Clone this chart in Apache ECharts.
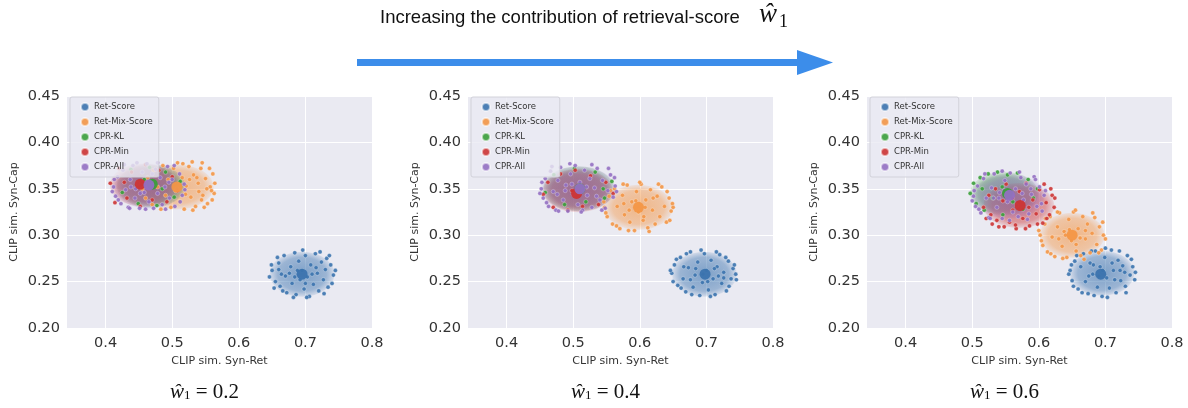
<!DOCTYPE html>
<html>
<head>
<meta charset="utf-8">
<script src="https://cdn.jsdelivr.net/npm/echarts@6/dist/echarts.min.js"></script>
<style>html,body{margin:0;padding:0;background:#fff;}#c{width:1188px;height:408px;}</style>
</head>
<body>
<div id="c"></div>
<script>
// ---------- data ----------
const methods = ['Ret-Score', 'Ret-Mix-Score', 'CPR-KL', 'CPR-Min', 'CPR-All'];
const weights = ['0.2', '0.4', '0.6'];
const xTicks = [0.4, 0.5, 0.6, 0.7, 0.8];
const xName = 'CLIP sim. Syn-Ret';
const yName = 'CLIP sim. Syn-Cap';
const titleText = 'Increasing the contribution of retrieval-score';

// panel 1 (w = 0.2)
const p1RetScore = [[0.650,0.262],[0.655,0.250],[0.660,0.270],[0.662,0.245],[0.668,0.278],[0.670,0.256],[0.672,0.238],[0.678,0.266],[0.680,0.248],[0.684,0.281],[0.686,0.236],[0.690,0.272],[0.692,0.252],[0.695,0.262],[0.698,0.242],[0.700,0.278],[0.703,0.255],[0.706,0.234],[0.708,0.268],[0.712,0.247],[0.715,0.280],[0.718,0.259],[0.720,0.240],[0.724,0.271],[0.727,0.252],[0.730,0.263],[0.734,0.244],[0.738,0.268],[0.742,0.257],[0.676,0.259],[0.688,0.262],[0.710,0.258],[0.664,0.258],[0.732,0.275],
  [0.646,0.255],[0.649,0.268],[0.653,0.243],[0.658,0.276],[0.666,0.240],[0.682,0.233],[0.696,0.284],[0.722,0.282],[0.728,0.237],[0.740,0.248],[0.745,0.262],[0.736,0.278],[0.702,0.233],[0.660,0.263],[0.716,0.265],[0.700,0.248],[0.684,0.255]];
const p1RetMix = [[0.455,0.350],[0.460,0.340],[0.463,0.362],[0.470,0.333],[0.472,0.370],[0.478,0.352],[0.483,0.328],[0.486,0.375],[0.490,0.343],[0.494,0.360],[0.498,0.330],[0.502,0.372],[0.505,0.348],[0.508,0.378],[0.511,0.336],[0.515,0.362],[0.518,0.328],[0.521,0.353],[0.525,0.374],[0.528,0.341],[0.532,0.365],[0.535,0.331],[0.539,0.356],[0.543,0.372],[0.546,0.343],[0.550,0.361],[0.553,0.334],[0.557,0.352],[0.561,0.366],[0.563,0.345],[0.540,0.347],[0.526,0.360],
  [0.564,0.356],[0.560,0.338],[0.556,0.372],[0.548,0.330],[0.545,0.378],[0.531,0.327],[0.530,0.379],[0.516,0.377],[0.552,0.350],[0.537,0.362],[0.544,0.338],[0.520,0.344],[0.559,0.348]];
const p1KL = [[0.425,0.346],[0.438,0.371],[0.449,0.334],[0.466,0.373],[0.477,0.332],[0.490,0.368],[0.503,0.341],[0.512,0.358],[0.485,0.350],[0.458,0.360]];
const p1Min = [[0.407,0.356],[0.414,0.335],[0.420,0.372],[0.432,0.340],[0.439,0.368],[0.452,0.331],[0.460,0.376],[0.470,0.338],[0.480,0.370],[0.492,0.336],[0.500,0.363],[0.508,0.348],[0.428,0.357]];
const p1All = [[0.412,0.352],[0.415,0.342],[0.418,0.363],[0.423,0.334],[0.426,0.370],[0.430,0.349],[0.434,0.330],[0.437,0.360],[0.441,0.375],[0.444,0.340],[0.448,0.356],[0.451,0.329],[0.455,0.368],[0.458,0.346],[0.462,0.377],[0.465,0.336],[0.468,0.358],[0.472,0.329],[0.475,0.371],[0.478,0.345],[0.482,0.362],[0.485,0.333],[0.489,0.352],[0.493,0.374],[0.496,0.340],[0.500,0.360],[0.504,0.331],[0.507,0.350],[0.511,0.366],[0.515,0.343],[0.518,0.355],[0.445,0.350],
  [0.410,0.347],[0.413,0.360],[0.419,0.338],[0.428,0.376],[0.436,0.329],[0.447,0.378],[0.460,0.328],[0.478,0.378],[0.490,0.328],[0.503,0.375],[0.512,0.336],[0.519,0.349],[0.452,0.345],[0.470,0.366],[0.438,0.352],[0.495,0.357]];
const p1Means = [[0.695,0.258],[0.507,0.352],[0.470,0.355],[0.452,0.355],[0.465,0.354]];
const p1Spread = [[0.695,0.258,0.050,0.025],[0.507,0.352,0.057,0.025],[0.468,0.353,0.053,0.024],[0.457,0.354,0.052,0.024],[0.465,0.353,0.054,0.025]];

// panel 2 (w = 0.4)
const p2RetScore = [[0.648,0.259],[0.652,0.268],[0.657,0.246],[0.661,0.276],[0.665,0.253],[0.669,0.239],[0.673,0.265],[0.676,0.282],[0.680,0.244],[0.683,0.257],[0.687,0.271],[0.690,0.235],[0.694,0.249],[0.697,0.280],[0.700,0.262],[0.703,0.241],[0.707,0.273],[0.710,0.253],[0.713,0.236],[0.716,0.266],[0.720,0.279],[0.723,0.248],[0.726,0.260],[0.730,0.240],[0.733,0.272],[0.737,0.253],[0.740,0.264],[0.744,0.258],[0.684,0.264],[0.718,0.256],[0.666,0.266],[0.702,0.250],
  [0.646,0.262],[0.650,0.250],[0.655,0.274],[0.662,0.243],[0.670,0.280],[0.678,0.236],[0.692,0.284],[0.706,0.234],[0.715,0.282],[0.729,0.276],[0.734,0.245],[0.742,0.268],[0.745,0.252],[0.695,0.258],[0.676,0.252],[0.712,0.264],[0.726,0.254]];
const p2RetMix = [[0.547,0.330],[0.551,0.320],[0.554,0.342],[0.559,0.312],[0.562,0.350],[0.566,0.331],[0.570,0.307],[0.574,0.343],[0.577,0.322],[0.581,0.354],[0.585,0.314],[0.588,0.336],[0.592,0.305],[0.595,0.347],[0.598,0.325],[0.602,0.355],[0.605,0.316],[0.609,0.338],[0.612,0.308],[0.616,0.349],[0.619,0.327],[0.623,0.312],[0.626,0.342],[0.630,0.320],[0.633,0.352],[0.637,0.331],[0.640,0.314],[0.644,0.340],[0.647,0.326],[0.649,0.334],[0.608,0.330],[0.584,0.327],
  [0.546,0.336],[0.549,0.324],[0.556,0.348],[0.565,0.310],[0.575,0.355],[0.583,0.305],[0.600,0.357],[0.614,0.304],[0.628,0.355],[0.641,0.347],[0.645,0.316],[0.650,0.330],[0.594,0.337],[0.620,0.340],[0.576,0.334],[0.606,0.320]];
const p2KL = [[0.458,0.346],[0.471,0.365],[0.487,0.333],[0.502,0.372],[0.519,0.336],[0.533,0.368],[0.547,0.340],[0.558,0.358],[0.545,0.350]];
const p2Min = [[0.455,0.344],[0.462,0.357],[0.470,0.330],[0.481,0.366],[0.492,0.327],[0.503,0.370],[0.514,0.331],[0.526,0.364],[0.538,0.333],[0.549,0.357],[0.560,0.345],[0.498,0.348]];
const p2All = [[0.452,0.350],[0.455,0.340],[0.458,0.361],[0.463,0.331],[0.466,0.369],[0.470,0.347],[0.474,0.327],[0.477,0.359],[0.481,0.373],[0.485,0.338],[0.489,0.354],[0.492,0.326],[0.496,0.366],[0.500,0.344],[0.503,0.375],[0.507,0.333],[0.510,0.357],[0.514,0.327],[0.517,0.370],[0.521,0.343],[0.525,0.361],[0.528,0.330],[0.532,0.351],[0.536,0.372],[0.540,0.338],[0.544,0.359],[0.548,0.329],[0.552,0.348],[0.556,0.365],[0.560,0.341],[0.563,0.353],[0.488,0.348],
  [0.450,0.345],[0.453,0.357],[0.460,0.335],[0.468,0.374],[0.478,0.326],[0.495,0.377],[0.512,0.325],[0.528,0.376],[0.543,0.327],[0.553,0.372],[0.562,0.362],[0.565,0.347],[0.498,0.355],[0.520,0.352],[0.535,0.342],[0.476,0.344]];
const p2Means = [[0.698,0.258],[0.598,0.330],[0.510,0.350],[0.505,0.345],[0.510,0.350]];
const p2Spread = [[0.697,0.258,0.050,0.025],[0.598,0.330,0.053,0.025],[0.508,0.350,0.055,0.025],[0.507,0.348,0.054,0.024],[0.508,0.350,0.057,0.025]];

// panel 3 (w = 0.6)
const p3RetScore = [[0.647,0.262],[0.650,0.251],[0.654,0.272],[0.659,0.242],[0.663,0.266],[0.667,0.280],[0.670,0.250],[0.674,0.237],[0.677,0.270],[0.681,0.258],[0.685,0.283],[0.688,0.244],[0.692,0.266],[0.695,0.234],[0.699,0.276],[0.702,0.254],[0.706,0.243],[0.709,0.284],[0.712,0.262],[0.716,0.238],[0.719,0.273],[0.723,0.251],[0.726,0.267],[0.730,0.245],[0.733,0.278],[0.737,0.257],[0.741,0.266],[0.744,0.252],[0.690,0.256],[0.710,0.270],[0.675,0.256],[0.722,0.262],
  [0.645,0.258],[0.649,0.268],[0.652,0.245],[0.657,0.278],[0.665,0.238],[0.679,0.283],[0.683,0.235],[0.700,0.286],[0.703,0.233],[0.721,0.283],[0.731,0.238],[0.739,0.274],[0.745,0.260],[0.696,0.262],[0.714,0.252],[0.682,0.268],[0.729,0.260]];
const p3RetMix = [[0.602,0.300],[0.606,0.289],[0.609,0.312],[0.613,0.282],[0.617,0.320],[0.620,0.298],[0.624,0.277],[0.628,0.309],[0.631,0.324],[0.635,0.288],[0.638,0.304],[0.642,0.276],[0.645,0.317],[0.649,0.294],[0.652,0.325],[0.656,0.283],[0.659,0.307],[0.663,0.278],[0.666,0.320],[0.670,0.296],[0.673,0.312],[0.677,0.281],[0.680,0.302],[0.684,0.319],[0.687,0.290],[0.691,0.309],[0.694,0.284],[0.697,0.300],[0.662,0.297],[0.640,0.300],
  [0.600,0.305],[0.604,0.294],[0.610,0.318],[0.618,0.280],[0.628,0.325],[0.636,0.275],[0.655,0.327],[0.668,0.274],[0.681,0.324],[0.690,0.281],[0.696,0.314],[0.700,0.296],[0.646,0.306],[0.670,0.305],[0.630,0.296],[0.656,0.290]];
const p3KL = [[0.497,0.345],[0.502,0.356],[0.506,0.334],[0.512,0.362],[0.518,0.327],[0.524,0.366],[0.531,0.340],[0.538,0.368],[0.546,0.322],[0.553,0.365],[0.561,0.336],[0.568,0.367],[0.576,0.328],[0.584,0.360],[0.592,0.340],[0.598,0.350],[0.515,0.350],[0.545,0.352]];
const p3Min = [[0.517,0.330],[0.521,0.318],[0.525,0.343],[0.530,0.312],[0.535,0.350],[0.540,0.309],[0.546,0.337],[0.551,0.355],[0.556,0.314],[0.561,0.327],[0.566,0.307],[0.571,0.347],[0.576,0.318],[0.581,0.356],[0.586,0.310],[0.591,0.338],[0.596,0.323],[0.601,0.349],[0.606,0.313],[0.611,0.335],[0.616,0.322],[0.620,0.343],[0.623,0.330],[0.560,0.340],[0.585,0.330],
  [0.528,0.322],[0.537,0.316],[0.548,0.309],[0.565,0.311],[0.580,0.307],[0.598,0.312],[0.612,0.318],[0.624,0.340],[0.618,0.350],[0.608,0.355]];
const p3All = [[0.502,0.342],[0.505,0.331],[0.508,0.353],[0.513,0.324],[0.517,0.361],[0.521,0.340],[0.525,0.319],[0.529,0.351],[0.533,0.366],[0.537,0.330],[0.541,0.346],[0.545,0.318],[0.549,0.359],[0.553,0.336],[0.557,0.367],[0.561,0.325],[0.565,0.350],[0.569,0.320],[0.573,0.362],[0.577,0.338],[0.581,0.355],[0.585,0.323],[0.589,0.344],[0.593,0.363],[0.597,0.331],[0.601,0.352],[0.605,0.326],[0.608,0.343],[0.540,0.340],[0.575,0.345],
  [0.500,0.337],[0.503,0.348],[0.510,0.328],[0.519,0.366],[0.527,0.318],[0.545,0.369],[0.556,0.316],[0.571,0.368],[0.583,0.317],[0.595,0.360],[0.604,0.334],[0.610,0.348],[0.548,0.348],[0.567,0.332],[0.532,0.340],[0.588,0.350]];
const p3Means = [[0.693,0.258],[0.650,0.300],[0.553,0.345],[0.572,0.332],[0.556,0.343]];
const p3Spread = [[0.695,0.259,0.050,0.025],[0.650,0.300,0.050,0.025],[0.548,0.345,0.053,0.024],[0.570,0.332,0.055,0.025],[0.555,0.342,0.055,0.025]];

// ---------- chart ----------
const panels = [
  {pts: [p1RetScore, p1RetMix, p1KL, p1Min, p1All], means: p1Means, spread: p1Spread},
  {pts: [p2RetScore, p2RetMix, p2KL, p2Min, p2All], means: p2Means, spread: p2Spread},
  {pts: [p3RetScore, p3RetMix, p3KL, p3Min, p3All], means: p3Means, spread: p3Spread}
];
const COLORS = ['#3b73ae', '#f39646', '#3a9e3a', '#cc3434', '#9470c2'];
const RGB = [[59,115,174],[243,150,70],[58,158,58],[204,52,52],[148,112,194]];
const gridLefts = [67, 468, 867];
const gridTop = 96, gridW = 305, gridH = 232;
const FONT = '"DejaVu Sans", sans-serif';
const FILL_SCALE = 0.97;

const grids = [], xAxes = [], yAxes = [], series = [], legends = [], graphics = [];

function makeEllipseRenderer(m) {
  const c = RGB[m].join(',');
  return function (params, api) {
    const cx = api.value(0), cy = api.value(1), rx = api.value(2), ry = api.value(3);
    const p0 = api.coord([cx, cy]);
    const pa = api.coord([cx + rx, cy]);
    const pb = api.coord([cx, cy + ry]);
    return {
      type: 'circle',
      x: p0[0], y: p0[1],
      scaleX: Math.abs(pa[0] - p0[0]) * FILL_SCALE, scaleY: Math.abs(p0[1] - pb[1]) * FILL_SCALE,
      shape: {cx: 0, cy: 0, r: 1},
      style: {
        fill: new echarts.graphic.RadialGradient(0.5, 0.5, 0.5, [
          {offset: 0, color: 'rgba(' + c + ',0.62)'},
          {offset: 0.75, color: 'rgba(' + c + ',0.45)'},
          {offset: 1, color: 'rgba(' + c + ',0.12)'}
        ])
      }
    };
  };
}

panels.forEach((p, i) => {
  grids.push({left: gridLefts[i], top: gridTop, width: gridW, height: gridH,
    show: true, backgroundColor: '#eaeaf2', borderWidth: 0, containLabel: false});
  xAxes.push({
    gridIndex: i, type: 'value', min: 0.342, max: 0.8,
    name: xName, nameLocation: 'middle', nameGap: 26,
    nameTextStyle: {fontFamily: FONT, fontSize: 11, color: '#333'},
    axisLine: {show: false},
    axisTick: {show: false, customValues: xTicks},
    axisLabel: {customValues: xTicks, fontFamily: FONT, fontSize: 14.5, color: '#333', margin: 8,
      formatter: v => v.toFixed(1)},
    splitLine: {show: true, lineStyle: {color: '#ffffff', width: 1}}
  });
  yAxes.push({
    gridIndex: i, type: 'value', min: 0.2, max: 0.45, interval: 0.05,
    name: yName, nameLocation: 'middle', nameGap: 47,
    nameTextStyle: {fontFamily: FONT, fontSize: 11, color: '#333'},
    axisLine: {show: false}, axisTick: {show: false},
    axisLabel: {fontFamily: FONT, fontSize: 14.5, color: '#333', margin: 7,
      formatter: v => v.toFixed(2)},
    splitLine: {show: true, lineStyle: {color: '#ffffff', width: 1}}
  });
  // points
  p.pts.forEach((d, m) => {
    series.push({
      name: methods[m], type: 'scatter', xAxisIndex: i, yAxisIndex: i,
      data: d, symbolSize: 4.2, z: 3, silent: true, animation: false,
      itemStyle: {color: COLORS[m], opacity: 0.9, borderColor: 'rgba(255,255,255,0.6)', borderWidth: 0.5}
    });
  });
  // spread ellipses
  p.spread.forEach((s, m) => {
    series.push({
      name: methods[m], type: 'custom', xAxisIndex: i, yAxisIndex: i,
      data: [s], renderItem: makeEllipseRenderer(m), z: 2, clip: true, silent: true, animation: false,
      encode: {x: 0, y: 1},
      itemStyle: {color: COLORS[m]}
    });
  });
  // means
  p.means.forEach((d, m) => {
    series.push({
      name: methods[m], type: 'scatter', xAxisIndex: i, yAxisIndex: i,
      data: [d], symbolSize: 11, z: 4, silent: true, animation: false,
      itemStyle: {color: COLORS[m], opacity: 0.95}
    });
  });
  legends.push({
    data: methods, orient: 'vertical', left: gridLefts[i] + 3, top: gridTop + 1,
    itemWidth: 8, itemHeight: 8, itemGap: 5, icon: 'circle',
    padding: [5, 6, 5, 10],
    backgroundColor: 'rgba(234,234,242,0.8)', borderColor: '#d2d2da', borderWidth: 1, borderRadius: 2,
    textStyle: {fontFamily: FONT, fontSize: 8.5, color: '#333'},
    selectedMode: false
  });
  // bottom labels
  graphics.push({
    type: 'text', x: gridLefts[i] + gridW / 2 - 15, y: 392,
    style: {
      text: '{w|ŵ}{s|1}{t| = ' + weights[i] + '}',
      align: 'center', verticalAlign: 'middle',
      rich: {
        w: {fontFamily: '"Liberation Serif", serif', fontStyle: 'italic', fontSize: 21, fill: '#111'},
        s: {fontFamily: '"Liberation Serif", serif', fontSize: 13, fill: '#111', verticalAlign: 'bottom', padding: [6, 0, 0, 0]},
        t: {fontFamily: '"Liberation Serif", serif', fontSize: 21, fill: '#111'}
      }
    }
  });
});

// title and arrow
graphics.push({type: 'text', x: 380, y: 18,
  style: {text: titleText, fontFamily: '"Liberation Sans", Arial, sans-serif', fontSize: 18.5, fill: '#111', verticalAlign: 'middle'}});
graphics.push({type: 'text', x: 759, y: 15,
  style: {text: 'ŵ', fontFamily: '"Liberation Serif", serif', fontStyle: 'italic', fontSize: 27, fill: '#111', verticalAlign: 'middle'}});
graphics.push({type: 'text', x: 779, y: 22,
  style: {text: '1', fontFamily: '"Liberation Serif", serif', fontSize: 18, fill: '#111', verticalAlign: 'middle'}});
graphics.push({type: 'rect', shape: {x: 357, y: 59, width: 442, height: 7}, style: {fill: '#3c8dea'}});
graphics.push({type: 'polygon', shape: {points: [[797, 50], [833, 62.5], [797, 75]]}, style: {fill: '#3c8dea'}});

const chart = echarts.init(document.getElementById('c'), null, {renderer: 'canvas'});
chart.setOption({
  animation: false,
  backgroundColor: '#ffffff',
  grid: grids, xAxis: xAxes, yAxis: yAxes,
  legend: legends, series: series, graphic: graphics
});
</script>
</body>
</html>
